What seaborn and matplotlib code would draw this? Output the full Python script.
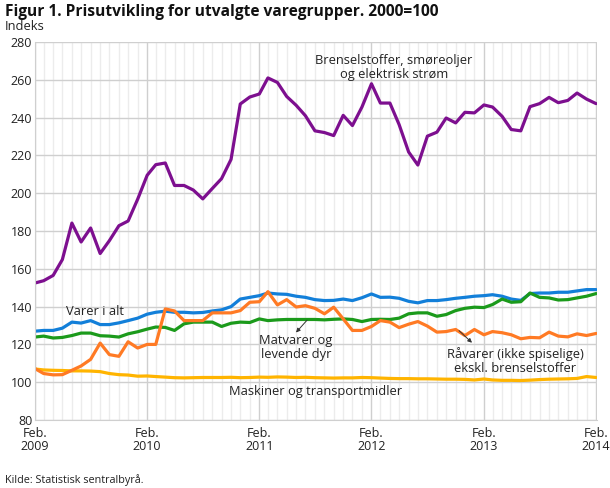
import pandas as pd
import seaborn as sns
import matplotlib.pyplot as plt
import matplotlib.dates as mdates

# Monthly index values, Feb 2009 - Feb 2014 (2000=100)
months = pd.date_range('2009-02-01', '2014-02-01', freq='MS')

brensel = [152.5, 153.7, 156.5, 164.9, 184.2, 174.2, 181.6, 168.1, 174.9, 182.8, 185.3,
           196.8, 209.5, 215.1, 216.0, 204.1, 204.1, 201.7, 197.0, 202.5, 207.7, 217.9, 247.2,
           250.9, 252.5, 261.0, 258.6, 251.2, 246.5, 241.0, 233.0, 232.1, 230.5, 241.2, 235.8,
           245.6, 257.9, 247.7, 247.7, 236.3, 221.8, 214.9, 230.2, 232.3, 239.8, 237.2, 242.8,
           242.5, 246.7, 245.6, 240.7, 233.7, 233.0, 245.8, 247.4, 250.7, 247.9, 249.1, 253.0,
           249.8, 247.4]

varer_i_alt = [127.0, 127.4, 127.4, 128.6, 131.8, 131.3, 132.6, 130.5, 130.5, 131.4, 132.6,
               133.9, 136.0, 137.0, 137.6, 137.0, 137.0, 136.7, 136.9, 137.7, 138.3, 140.0, 144.0,
               144.9, 145.8, 147.2, 146.7, 146.5, 145.5, 144.9, 143.7, 143.2, 143.3, 144.0, 143.2,
               144.7, 146.7, 144.9, 145.0, 144.4, 142.8, 142.0, 143.2, 143.2, 143.7, 144.4, 144.9,
               145.5, 145.8, 146.3, 145.5, 144.0, 143.3, 146.9, 147.2, 147.2, 147.6, 147.6, 148.3,
               149.0, 149.0]

matvarer = [123.9, 124.4, 123.4, 123.7, 124.7, 126.0, 126.0, 124.6, 124.4, 123.9, 125.6,
            126.7, 128.1, 129.2, 129.0, 127.4, 130.9, 131.8, 131.8, 131.8, 129.5, 131.2, 131.8,
            131.6, 133.5, 132.6, 133.0, 133.2, 133.2, 133.2, 133.2, 133.0, 133.3, 133.5, 133.2,
            132.1, 133.2, 133.3, 133.2, 133.9, 136.2, 136.7, 136.7, 134.9, 135.8, 137.9, 139.1,
            139.7, 139.5, 141.1, 144.0, 142.3, 142.6, 147.2, 144.9, 144.6, 143.5, 143.7, 144.6,
            145.5, 146.9]

raavarer = [107.2, 104.6, 103.9, 104.0, 106.3, 108.6, 112.1, 120.7, 114.6, 113.7, 121.4,
            118.1, 120.0, 120.0, 138.8, 137.7, 132.6, 132.6, 132.6, 136.7, 136.7, 136.7, 137.9,
            142.3, 142.6, 147.9, 140.9, 143.7, 139.8, 140.5, 139.1, 136.2, 139.7, 133.5, 127.4,
            127.4, 129.5, 132.6, 131.8, 128.9, 130.7, 132.1, 129.7, 126.5, 126.8, 127.9, 124.7,
            127.9, 125.1, 126.8, 126.2, 125.1, 123.0, 123.7, 123.5, 126.5, 124.4, 124.0, 125.6,
            124.7, 125.8]

maskiner = [107.0, 106.5, 106.3, 106.2, 106.0, 106.0, 105.9, 105.6, 104.6, 104.0, 103.8,
            103.2, 103.3, 103.0, 102.7, 102.4, 102.3, 102.4, 102.5, 102.5, 102.5, 102.6, 102.4,
            102.5, 102.7, 102.6, 102.8, 102.7, 102.5, 102.6, 102.4, 102.3, 102.2, 102.3, 102.3,
            102.5, 102.4, 102.2, 102.0, 101.9, 101.9, 101.8, 101.8, 101.7, 101.6, 101.6, 101.5,
            101.2, 101.7, 101.2, 101.0, 101.0, 100.9, 101.1, 101.4, 101.6, 101.7, 101.8, 102.0,
            103.0, 102.5]

series = {
    'Brenselstoffer': brensel,
    'Varer i alt': varer_i_alt,
    'Matvarer': matvarer,
    'Maskiner': maskiner,
    'Råvarer': raavarer,
}
colors = {
    'Brenselstoffer': '#7d0f8f',
    'Varer i alt': '#127fd9',
    'Matvarer': '#1b9a1b',
    'Maskiner': '#ffb400',
    'Råvarer': '#ff7a24',
}

df = pd.DataFrame(series, index=months).reset_index(names='month')
df_long = df.melt(id_vars='month', var_name='gruppe', value_name='indeks')

sns.set_style('white')
plt.rcParams['font.family'] = ['Open Sans', 'DejaVu Sans']

fig = plt.figure(figsize=(6.1, 4.88), dpi=100)
ax = fig.add_axes([0.0574, 0.1393, 0.9213, 0.7746])

sns.lineplot(data=df_long, x='month', y='indeks', hue='gruppe', palette=colors,
             hue_order=list(series.keys()), linewidth=2.3, legend=False, ax=ax)

ax.set_xlim(months[0], months[-1] + pd.Timedelta(days=3))
ax.set_ylim(80, 280)
ax.set_yticks(range(80, 281, 20))

ax.xaxis.set_major_locator(mdates.MonthLocator(bymonth=2))
ax.xaxis.set_major_formatter(mdates.DateFormatter('Feb.\n%Y'))
ax.xaxis.set_minor_locator(mdates.MonthLocator())

ax.grid(which='major', axis='both', color='#cfcfcf', linewidth=1)
ax.grid(which='minor', axis='x', color='#ececec', linewidth=1)
ax.set_axisbelow(True)

for s in ['top', 'right']:
    ax.spines[s].set_visible(False)
for s in ['left', 'bottom']:
    ax.spines[s].set_color('#cfcfcf')
ax.tick_params(which='both', length=0, labelsize=9, colors='#222222')
ax.tick_params(axis='y', pad=2)
ax.tick_params(axis='x', pad=5)
for lab in ax.get_xticklabels():
    lab.set_linespacing(1.05)
ax.set_xlabel('')
ax.set_ylabel('')

fig.text(0.008, 0.976, 'Figur 1. Prisutvikling for utvalgte varegrupper. 2000=100',
         fontsize=11.2, fontweight='bold', va='center', color='#111111')
fig.text(0.008, 0.945, 'Indeks', fontsize=9.3, va='center', color='#222222')
fig.text(0.008, 0.016, 'Kilde: Statistisk sentralbyrå.', fontsize=7.8, va='center', color='#222222')

txt = dict(fontsize=9.3, color='#222222', ha='center', va='center', linespacing=1.1)

def xpos(px):
    # pixel x in the figure -> data x
    return ax.transData.inverted().transform(fig.transFigure.transform((px / 610, 0)))[0]

ax.text(xpos(394), 266.6, 'Brenselstoffer, smøreoljer\nog elektrisk strøm', **txt)
ax.text(xpos(94.5), 137.5, 'Varer i alt', **txt)
ax.text(xpos(296), 118.3, 'Matvarer og\nlevende dyr', **txt)
ax.text(xpos(515), 111.2, 'Råvarer (ikke spiselige)\nekskl. brenselstoffer', **txt)
ax.text(xpos(315.5), 95.3, 'Maskiner og transportmidler', **txt)

arrow = dict(arrowstyle='-|>', color='#333333', lw=0.7, mutation_scale=6,
             shrinkA=0, shrinkB=0)
ax.annotate('', xy=(xpos(296), 126.3), xytext=(xpos(307), 132.8), arrowprops=arrow)
ax.annotate('', xy=(xpos(472), 120.9), xytext=(xpos(459), 127.3), arrowprops=arrow)

fig.savefig('out.png', dpi=100)
